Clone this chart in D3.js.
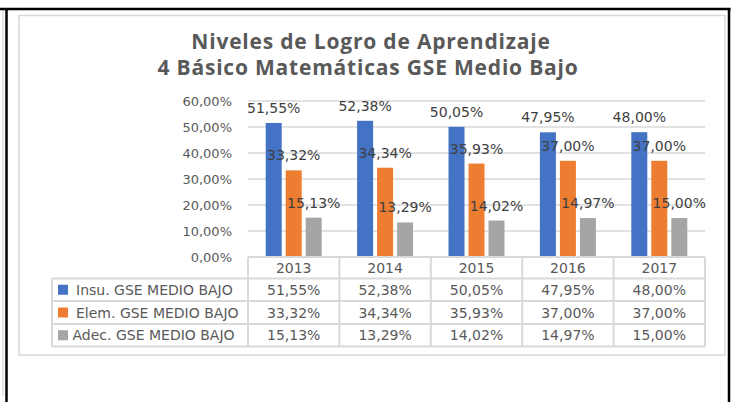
<!DOCTYPE html>
<html>
<head>
<meta charset="utf-8">
<script src="https://d3js.org/d3.v7.min.js"></script>
<style>
  body { margin: 0; background: #fff; }
  svg text { font-family: "DejaVu Sans", sans-serif; }
</style>
</head>
<body>
<svg id="main-svg" width="747" height="402"></svg>
<script>
var years = ['2013', '2014', '2015', '2016', '2017'];
var seriesNames = ['Insu. GSE MEDIO BAJO', 'Elem. GSE MEDIO BAJO', 'Adec. GSE MEDIO BAJO'];
var insu = [51.55, 52.38, 50.05, 47.95, 48.00];
var elem = [33.32, 34.34, 35.93, 37.00, 37.00];
var adec = [15.13, 13.29, 14.02, 14.97, 15.00];
var yTicks = [0, 10, 20, 30, 40, 50, 60];
var colors = ['#4472C4', '#ED7D31', '#A5A5A5'];

var values = [insu, elem, adec];

function fmt(v) {
    return v.toFixed(2).replace('.', ',') + '%';
}

var svg = d3.select('#main-svg');
var grid = '#d9d9d9';

// outer black frame
svg.append('line').attr('x1', 3).attr('x2', 3).attr('y1', 9).attr('y2', 396)
    .attr('stroke', '#cfcfcf').attr('stroke-width', 1);
svg.append('line').attr('x1', 0).attr('x2', 730.5).attr('y1', 9).attr('y2', 9)
    .attr('stroke', '#000').attr('stroke-width', 2.5);
svg.append('line').attr('x1', 6.5).attr('x2', 6.5).attr('y1', 8).attr('y2', 402)
    .attr('stroke', '#000').attr('stroke-width', 2.5);
svg.append('line').attr('x1', 729).attr('x2', 729).attr('y1', 8).attr('y2', 402)
    .attr('stroke', '#000').attr('stroke-width', 2.5);

// chart area border
svg.append('rect').attr('x', 19).attr('y', 15.5).attr('width', 706).attr('height', 339.5)
    .attr('fill', '#fff').attr('stroke', grid).attr('stroke-width', 1.5);

// title (two separate lines)
var titleLines = [
    {t: 'Niveles de Logro de Aprendizaje', x: 371, y: 48.5},
    {t: '4 Básico Matemáticas GSE Medio Bajo', x: 368, y: 75}
];
svg.append('g').selectAll('text').data(titleLines).enter().append('text')
    .attr('x', function(d) { return d.x; })
    .attr('y', function(d) { return d.y; })
    .attr('text-anchor', 'middle')
    .attr('fill', '#595959').style('font-family', '"Open Sans", sans-serif')
    .style('font-weight', 'bold').style('font-size', '21px')
    .style('letter-spacing', '0.8px')
    .text(function(d) { return d.t; });

// scales
var x = d3.scaleBand().domain(years).range([248, 705]).padding(0);
var x1 = d3.scaleBand().domain(d3.range(3)).range([0, 56]).paddingInner(0.2).paddingOuter(0);
var y = d3.scaleLinear().domain([0, 60]).range([257, 101]);
var groupOff = (x.bandwidth() - 56) / 2;

// gridlines
svg.append('g').selectAll('line').data(yTicks.slice(1)).enter().append('line')
    .attr('x1', 248).attr('x2', 705)
    .attr('y1', function(d) { return y(d); })
    .attr('y2', function(d) { return y(d); })
    .attr('stroke', grid).attr('stroke-width', 1.5);

// y axis labels
svg.append('g').selectAll('text').data(yTicks).enter().append('text')
    .attr('x', 232).attr('y', function(d) { return y(d); })
    .attr('dy', '0.36em').attr('text-anchor', 'end')
    .attr('fill', '#595959').style('font-size', '13px')
    .text(function(d) { return fmt(d); });

// bars
var groups = svg.append('g').selectAll('g').data(years).enter().append('g')
    .attr('transform', function(d) { return 'translate(' + (x(d) + groupOff) + ',0)'; });

groups.selectAll('rect').data(function(d, i) {
        return values.map(function(s, k) { return {k: k, v: s[i]}; });
    }).enter().append('rect')
    .attr('x', function(d) { return x1(d.k); })
    .attr('y', function(d) { return y(d.v); })
    .attr('width', x1.bandwidth())
    .attr('height', function(d) { return y(0) - y(d.v); })
    .attr('fill', function(d) { return colors[d.k]; });

groups.selectAll('text').data(function(d, i) {
        return values.map(function(s, k) { return {k: k, v: s[i]}; });
    }).enter().append('text')
    .attr('x', function(d) { return x1(d.k) + x1.bandwidth() / 2; })
    .attr('y', function(d) { return y(d.v) - 10; })
    .attr('text-anchor', 'middle')
    .attr('fill', '#404040').style('font-size', '14px')
    .text(function(d) { return fmt(d.v); });

// data table
var rowY = [257, 278.5, 301, 324, 346.5];
var tbl = svg.append('g');
rowY.forEach(function(ry, i) {
    tbl.append('line').attr('x1', i === 0 ? 248 : 52).attr('x2', 705)
        .attr('y1', ry).attr('y2', ry)
        .attr('stroke', grid).attr('stroke-width', 2);
});
tbl.append('line').attr('x1', 52).attr('x2', 52).attr('y1', rowY[1]).attr('y2', rowY[4])
    .attr('stroke', grid).attr('stroke-width', 2);
x.domain().concat(['end']).forEach(function(yr) {
    var xx = yr === 'end' ? 705 : x(yr);
    tbl.append('line').attr('x1', xx).attr('x2', xx).attr('y1', rowY[0]).attr('y2', rowY[4])
        .attr('stroke', grid).attr('stroke-width', 2);
});

// header years
tbl.selectAll('text.yr').data(years).enter().append('text')
    .attr('class', 'yr')
    .attr('x', function(d) { return x(d) + x.bandwidth() / 2; })
    .attr('y', (rowY[0] + rowY[1]) / 2).attr('dy', '0.36em')
    .attr('text-anchor', 'middle').attr('fill', '#595959').style('font-size', '14px')
    .text(function(d) { return d; });

// rows
var legendTextX = [76, 76, 72.5];
values.forEach(function(s, k) {
    var cy = (rowY[k + 1] + rowY[k + 2]) / 2;
    tbl.append('rect').attr('x', 58).attr('y', cy - 5).attr('width', 10).attr('height', 10)
        .attr('fill', colors[k]);
    tbl.append('text').attr('x', legendTextX[k]).attr('y', cy).attr('dy', '0.36em')
        .attr('fill', '#595959').style('font-size', '14px')
        .text(seriesNames[k]);
    tbl.selectAll('text.v' + k).data(s).enter().append('text')
        .attr('class', 'v' + k)
        .attr('x', function(d, i) { return x(years[i]) + x.bandwidth() / 2; })
        .attr('y', cy).attr('dy', '0.36em')
        .attr('text-anchor', 'middle').attr('fill', '#595959').style('font-size', '14px')
        .text(function(d) { return fmt(d); });
});
</script>
</body>
</html>
